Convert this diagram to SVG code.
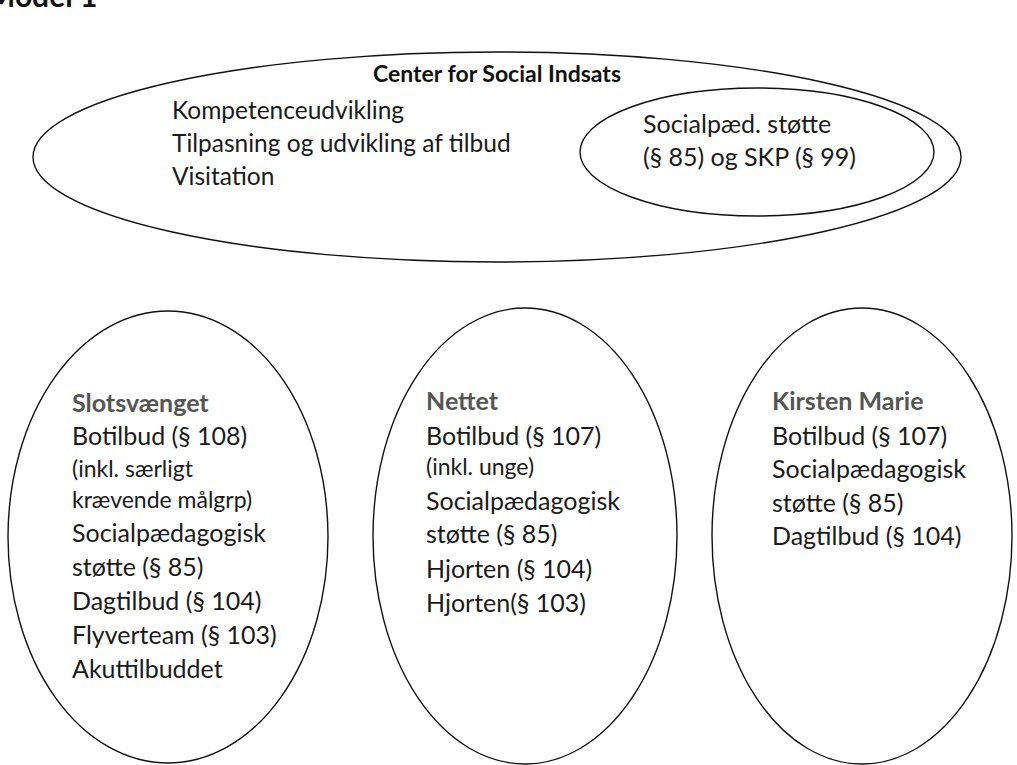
<svg xmlns="http://www.w3.org/2000/svg" width="1017" height="765" viewBox="0 0 1017 765">
<style>
.ell{fill:none;stroke:#111;stroke-width:1.4}
text{font-family:Lato,"Noto Sans",sans-serif;font-size:25px;fill:#1a1a1a}
.top{font-size:24.5px}
.title{font-weight:bold;fill:#555}
.main{font-weight:bold;fill:#111;font-size:23px}
.small{font-size:23px}
</style>
<rect width="1017" height="765" fill="#fff"/>
<text x="-13" y="7" class="main" style="font-size:30px">Model 1</text>
<g id="center">
<ellipse class="ell" cx="497" cy="157" rx="464" ry="105"/>
<text x="497" y="82" class="main" text-anchor="middle">Center for Social Indsats</text>
<text x="172" y="119" class="top">Kompetenceudvikling</text>
<text x="172" y="152" class="top">Tilpasning og udvikling af tilbud</text>
<text x="172" y="185" class="top">Visitation</text>
</g>
<g id="socialpaed">
<ellipse class="ell" cx="757" cy="152" rx="177" ry="64"/>
<text x="643" y="133">Socialpæd. støtte</text>
<text x="643" y="166">(§ 85) og SKP (§ 99)</text>
</g>
<g id="slotsvaenget">
<ellipse class="ell" cx="168" cy="537" rx="160" ry="226"/>
<text x="72" y="412" class="title">Slotsvænget</text>
<text x="72" y="445">Botilbud (§ 108)</text>
<text x="72" y="477" class="small">(inkl. særligt</text>
<text x="72" y="508" class="small">krævende målgrp)</text>
<text x="72" y="542">Socialpædagogisk</text>
<text x="72" y="576">støtte (§ 85)</text>
<text x="72" y="610">Dagtilbud (§ 104)</text>
<text x="72" y="644">Flyverteam (§ 103)</text>
<text x="72" y="678">Akuttilbuddet</text>
</g>
<g id="nettet">
<ellipse class="ell" cx="525" cy="536" rx="152" ry="228"/>
<text x="426" y="410" class="title">Nettet</text>
<text x="426" y="445">Botilbud (§ 107)</text>
<text x="426" y="475" class="small">(inkl. unge)</text>
<text x="426" y="510">Socialpædagogisk</text>
<text x="426" y="543">støtte (§ 85)</text>
<text x="426" y="578">Hjorten (§ 104)</text>
<text x="426" y="612">Hjorten(§ 103)</text>
</g>
<g id="kirstenmarie">
<ellipse class="ell" cx="862" cy="536" rx="150" ry="228"/>
<text x="772" y="410" class="title">Kirsten Marie</text>
<text x="772" y="445">Botilbud (§ 107)</text>
<text x="772" y="478">Socialpædagogisk</text>
<text x="772" y="512">støtte (§ 85)</text>
<text x="772" y="545">Dagtilbud (§ 104)</text>
</g>
<g id="connectors"/>
</svg>
